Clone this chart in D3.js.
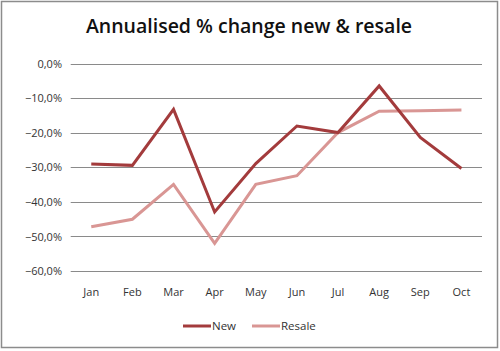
<!DOCTYPE html>
<html><head><meta charset="utf-8">
<script src="https://cdn.jsdelivr.net/npm/d3@7/dist/d3.min.js"></script>
<style>html,body{margin:0;padding:0;background:#fff;}svg{display:block;}</style>
</head><body>
<svg id="chart" width="500" height="351"></svg>
<script>
const months = ["Jan","Feb","Mar","Apr","May","Jun","Jul","Aug","Sep","Oct"];
const newValues = [-29.1, -29.5, -13.3, -43.0, -29.0, -18.1, -20.0, -6.5, -21.4, -30.4];
const resaleValues = [-47.3, -45.1, -35.0, -52.1, -35.0, -32.5, -20.0, -13.8, -13.7, -13.5];
const yTicks = [0, -10, -20, -30, -40, -50, -60];
const seriesNames = ["New", "Resale"];

const svg = d3.select("#chart");
const font = "'Open Sans', 'Noto Sans', sans-serif";
const colors = {"New": "#a33b3c", "Resale": "#d99694"};

svg.append("rect").attr("x", 1.5).attr("y", 1.5).attr("width", 496).attr("height", 346)
  .attr("fill", "#fff").attr("stroke", "#8c8c8c").attr("stroke-width", 1.5);

svg.append("text").attr("x", 249).attr("y", 33).attr("text-anchor", "middle")
  .attr("font-family", font).attr("font-size", 19.5).attr("font-weight", "600")
  .attr("fill", "#111").text("Annualised % change new & resale");

const x = d3.scaleBand().domain(months).range([70.7, 482]);
const y = d3.scaleLinear().domain([-60, 0]).range([270.7, 63.5]);

const grid = svg.append("g");
grid.selectAll("line").data(yTicks).join("line")
  .attr("x1", 70.7).attr("x2", 482)
  .attr("y1", d => Math.round(y(d)) + 0.5).attr("y2", d => Math.round(y(d)) + 0.5)
  .attr("stroke", "#8a8a8a").attr("stroke-width", 1.2);

const yAxis = svg.append("g").attr("transform", "translate(62,0)")
  .call(d3.axisLeft(y).tickValues(yTicks).tickSize(0).tickPadding(0)
    .tickFormat(d => d3.format(".1f")(d).replace(".", ",") + "%"));
yAxis.select(".domain").remove();
yAxis.selectAll("text").attr("font-family", font).attr("font-size", 11).attr("fill", "#333").attr("dy", "0.35em");

const xAxis = svg.append("g").attr("transform", "translate(0,292)")
  .call(d3.axisBottom(x).tickSize(0).tickPadding(0));
xAxis.select(".domain").remove();
xAxis.selectAll("text").attr("font-family", font).attr("font-size", 11).attr("fill", "#333").attr("dy", "0.35em");

const line = d3.line().x((d, i) => x(months[i]) + x.bandwidth() / 2).y(d => y(d));
[["Resale", resaleValues], ["New", newValues]].forEach(([name, vals]) => {
  svg.append("path").datum(vals).attr("d", line).attr("fill", "none")
    .attr("stroke", colors[name]).attr("stroke-width", 3).attr("stroke-linejoin", "miter");
});

const legend = svg.append("g");
const legendPos = {"New": 183, "Resale": 252};
seriesNames.forEach(name => {
  const lx = legendPos[name];
  legend.append("line").attr("x1", lx).attr("x2", lx + 28).attr("y1", 326).attr("y2", 326)
    .attr("stroke", colors[name]).attr("stroke-width", 3);
  legend.append("text").attr("x", lx + 29).attr("y", 326).attr("dy", "0.35em")
    .attr("font-family", font).attr("font-size", 11.5).attr("fill", "#333").text(name);
});
</script>
</body></html>
